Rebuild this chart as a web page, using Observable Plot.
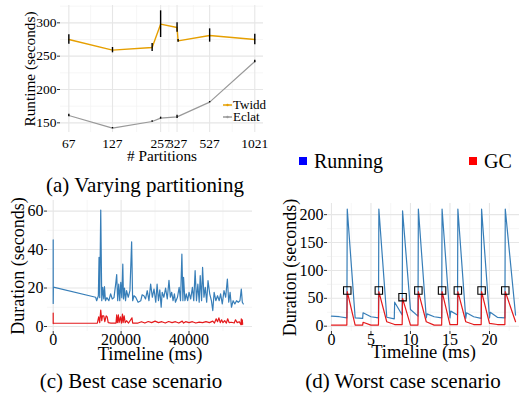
<!DOCTYPE html>
<html><head><meta charset="utf-8">
<script src="https://cdn.jsdelivr.net/npm/d3@7"></script>
<script src="https://cdn.jsdelivr.net/npm/@observablehq/plot@0.6"></script>
<style>
body{margin:0;background:#fff;font-family:'Liberation Serif',serif;color:#000;}
#root{position:relative;width:519px;height:393px;overflow:hidden;}
.panel{position:absolute;}
.panel svg text{font-family:'Liberation Serif',serif;}
.cap{position:absolute;font-size:21px;white-space:nowrap;transform:translate(-50%,-50%);}
.leg{position:absolute;font-size:20px;white-space:nowrap;display:flex;align-items:center;line-height:20px;}
.sw{display:inline-block;width:8px;height:8px;margin-right:7px;}
.alg{position:absolute;font-size:13px;white-space:nowrap;display:flex;align-items:center;line-height:11px;}
</style></head><body><div id="root"></div>
<script>
// ---- (a) Varying partitioning ----
const partitionTicks = [67, 127, 257, 327, 527, 1021];
const twiddX = [67, 127, 227, 257, 327, 332, 527, 1021];
const twiddY = [275, 259, 263, 298, 293, 273, 281, 275];
const twiddErr = [7, 4, 6, 20, 7, 2, 10, 8];
const eclatX = [67, 127, 227, 257, 327, 527, 1021];
const eclatY = [161, 142, 152, 157, 159, 181, 242];
const eclatErr = [2, 1, 1, 1.5, 2.5, 1, 2];
const runtimeTicks = [150, 200, 250, 300];
const runtimeMinor = [175, 225, 275, 325];
const seriesNames = ["Twidd", "Eclat"];

// ---- (c) Best case scenario ----
const bestRunT = [0,0,0,50,12500,12800,13300,13500,13700,14000,14300,14600,14900,15100,15400,15800,16400,16900,17400,17900,18400,18700,19000,19300,19600,19900,20200,20500,20700,21000,21300,21600,22100,22600,23100,23400,23800,24300,25000,25800,26200,26700,27200,27700,28200,28700,29200,29700,30200,30600,31000,31400,31800,32100,32600,33100,33600,34100,34500,34900,35300,35700,36000,36600,37100,37500,37900,38200,38400,38800,39200,39600,40000,40500,41000,41400,41800,42200,42600,43000,43300,43700,44000,44400,44800,45200,45600,46100,46600,47000,47400,47900,48400,48900,49300,49800,50300,50800,51300,51700,52100,52500,53000,53500,54000,54500,55000,55400,55700,56000];
const bestRunV = [33,45,12,20.5,15.2,13.4,16,36,15,60.5,13.4,20.3,14.3,20.7,13.4,15,13.4,17,14.3,15,22,27,13.4,22,13.4,23,15,32.4,14.3,20,13.4,18.6,15.2,18.6,44,13.4,16,15.2,12.6,13.4,16.5,16,14.3,18.6,13.4,22,15.2,19.5,12.6,22,13.4,19,10,17.8,15.2,20,14.3,24,15.2,17.8,13.4,17,12.6,15.2,20.3,13.4,37.6,13.4,25.5,13.4,17,13.4,17.8,14.3,20.3,13.4,29,13.4,22,12.6,26.4,13.4,30.7,15.2,20.3,12.6,23.8,17,13.4,8.3,17.8,13.4,16,13.4,17,11.7,18.6,15.2,24.7,12.6,17.8,10,13.4,11.7,13.4,12.6,13.4,19.5,12.6,11.7];
const bestGcT = [0,0,0,0,13000,13400,13700,14000,14300,14500,14900,15200,15600,15900,16200,17000,18500,18700,18900,19200,19400,19800,20100,20400,20600,20900,21200,21600,22200,23200,23400,25000,26000,27000,28000,29000,30000,31000,32000,33000,34000,35000,36000,37000,38000,38400,39000,40000,41000,42000,43000,44000,45000,46000,47000,47500,48000,48400,48800,49200,49600,50000,50500,51000,51400,51800,52500,53300,53700,54200,54800,55300,55400,55600,55700,55800];
const bestGcV = [1.5,7,6,1.7,1.7,5,2,8.5,3,5.5,5.5,2.5,5.5,5,2,1.8,1.8,6,2,6,2,5,1.8,6.5,2,5.5,2,3,1.8,4.5,1.8,1.8,2.5,1.8,2.6,2,2.8,2,2.5,1.8,2.6,2,2.5,1.8,2.8,1.8,2.5,2,2.5,1.8,2.3,2,2.5,2,2.8,1.8,4,2.5,4.5,2,3.5,2,3,1.8,4,2,2.2,1.8,3.5,2,2.5,1,4,1,3.5,1.2];
const bestXTicks = [0, 20000, 40000];
const bestXMinor = [10000, 30000, 50000];
const bestYTicks = [0, 20, 40, 60];
const bestYMinor = [10, 30, 50];

// ---- (d) Worst case scenario ----
const worstRunT = [0,1,1.95,2,3,3.95,4,5,5.95,6,7,7.95,8,8.95,9,10,10.95,11,12,12.1,13,13.95,14,15,15.1,15.95,16,17,17.1,18,18.95,19,20,20.1,21,21.95,22,23.3];
const worstRunV = [18,17,15,210,15,14,24,17,15,210,16,13,43,20,207,30,18,210,15,22,17,15,210,15,27,20,210,14,24,17,14,210,15,25,16,15,210,20];
const worstGcT = [0,1.95,2,3,3.95,4,5,5.95,6,7,8,8.95,9,10,10.95,11,12,13,13.95,14,15,15.95,16,17,18,18.95,19,20,21,21.95,22,23.3];
const worstGcV = [2,2,62,2,2,7,2,2,62,8,3,3,50,2,2,62,8,2,2,62,3,3,62,8,3,3,62,5,3,3,62,8];
const markT = [2, 6, 9, 11, 14, 16, 19, 22];
const markV = [64, 64, 52, 64, 64, 64, 64, 64];
const worstXTicks = [0, 5, 10, 15, 20];
const worstXMinor = [2.5, 7.5, 12.5, 17.5, 22.5];
const worstYTicks = [0, 50, 100, 150, 200];
const worstYMinor = [25, 75, 125, 175];
const legendNames = ["Running", "GC"];

const captions = ["(a) Varying partitioning", "(c) Best case scenario", "(d) Worst case scenario"];

const FONT = "'Liberation Serif', serif";
const C_TWIDD = "#E69F00", C_ECLAT = "#999999", C_RUN = "#377EB8", C_GC = "#E41A1C";
const MAJ = "#e6e6e6", MIN = "#f2f2f2";

const zip = (xs, ys, es) => xs.map((x, i) => ({x, y: ys[i], e: es ? es[i] : 0}));
const root = document.getElementById("root");
function place(node, left, top) {
  const d = document.createElement("div");
  d.className = "panel"; d.style.left = left + "px"; d.style.top = top + "px";
  d.appendChild(node); root.appendChild(d); return d;
}
function gridMarks(xt, xm, yt, ym) {
  return [
    Plot.ruleX(xm, {stroke: MIN, strokeWidth: 0.7}),
    Plot.ruleY(ym, {stroke: MIN, strokeWidth: 0.7}),
    Plot.ruleX(xt, {stroke: MAJ, strokeWidth: 1.1}),
    Plot.ruleY(yt, {stroke: MAJ, strokeWidth: 1.1})
  ];
}
function yTitle(t, dx, fs) {
  return Plot.text([t], {frameAnchor: "left", textAnchor: "middle", lineAnchor: "middle", dx, rotate: -90, fontSize: fs, fill: "#000"});
}
function xTitle(t, dy, fs) {
  return Plot.text([t], {frameAnchor: "bottom", textAnchor: "middle", lineAnchor: "middle", dy, fontSize: fs, fill: "#000"});
}
function xTickText(ticks, dy, fs) {
  return Plot.text(ticks, {x: d => d, frameAnchor: "bottom", lineAnchor: "middle", dy, text: d => String(d), fontSize: fs, fill: "#000"});
}

// (a)
const twidd = zip(twiddX, twiddY, twiddErr);
const eclat = zip(eclatX, eclatY, eclatErr);
const aMinorX = partitionTicks.slice(1).map((v, i) => Math.sqrt(v * partitionTicks[i]));
const plotA = Plot.plot({
  width: 270, height: 170, marginLeft: 60, marginRight: 7, marginTop: 5, marginBottom: 38,
  style: {fontFamily: FONT, fontSize: "13.5px", color: "#000", background: "transparent"},
  x: {type: "log", domain: [59.3, 1160], axis: null},
  y: {domain: [135.5, 326], axis: null},
  marks: [
    ...gridMarks(partitionTicks, aMinorX, runtimeTicks, runtimeMinor),
    xTickText(partitionTicks, 11, 13.5),
    Plot.axisY(runtimeTicks, {tickSize: 3, tickPadding: 1, stroke: "#333", label: null, fontSize: 13.5}),
    Plot.line(eclat, {x: "x", y: "y", stroke: C_ECLAT, strokeWidth: 1.2}),
    Plot.ruleX(eclat, {x: "x", y1: d => d.y - d.e, y2: d => d.y + d.e, stroke: "#000", strokeWidth: 1.4}),
    Plot.line(twidd, {x: "x", y: "y", stroke: C_TWIDD, strokeWidth: 1.4}),
    Plot.ruleX(twidd, {x: "x", y1: d => d.y - d.e, y2: d => d.y + d.e, stroke: "#000", strokeWidth: 1.4}),
    yTitle("Runtime (seconds)", -30, 15.3),
    xTitle("# Partitions", 23.5, 15.3)
  ]
});
place(plotA, 0, 0);

// legend (a)
const aLegColors = [C_TWIDD, C_ECLAT];
seriesNames.forEach((n, i) => {
  const d = document.createElement("div");
  d.className = "alg";
  d.style.left = "223px"; d.style.top = (99 + i * 12) + "px";
  d.innerHTML = `<svg width="9" height="8" style="margin-right:1px"><line x1="0" x2="9" y1="4" y2="4" stroke="${aLegColors[i]}" stroke-width="1.5"/><circle cx="4.5" cy="4" r="1.2" fill="${aLegColors[i]}"/></svg><span>${n}</span>`;
  root.appendChild(d);
});

// (c)
const plotC = Plot.plot({
  width: 262, height: 172, marginLeft: 47, marginRight: 10, marginTop: 5, marginBottom: 36,
  style: {fontFamily: FONT, fontSize: "16px", color: "#000", background: "transparent"},
  x: {domain: [-1680, 58700], axis: null},
  y: {domain: [-2.6, 65.5], axis: null},
  marks: [
    ...gridMarks(bestXTicks, bestXMinor, bestYTicks, bestYMinor),
    Plot.axisX(bestXTicks, {tickSize: 3, tickPadding: 0, stroke: "#333", text: null, label: null}),
    xTickText(bestXTicks, 8, 16),
    Plot.axisY(bestYTicks, {tickSize: 3, tickPadding: 1, stroke: "#333", label: null, fontSize: 16}),
    Plot.line(zip(bestRunT, bestRunV), {x: "x", y: "y", stroke: C_RUN, strokeWidth: 1.2}),
    Plot.line(zip(bestGcT, bestGcV), {x: "x", y: "y", stroke: C_GC, strokeWidth: 1.2}),
    yTitle("Duration (seconds)", -29, 18),
    xTitle("Timeline (ms)", 22.5, 18.5)
  ]
});
place(plotC, 0, 195);

// (d)
const plotD = Plot.plot({
  width: 249, height: 172, marginLeft: 57, marginRight: 0, marginTop: 8, marginBottom: 36,
  style: {fontFamily: FONT, fontSize: "16px", color: "#000", background: "transparent"},
  x: {domain: [-0.5, 23.8], axis: null},
  y: {domain: [-9.5, 220], axis: null},
  marks: [
    ...gridMarks(worstXTicks, worstXMinor, worstYTicks, worstYMinor),
    Plot.axisX(worstXTicks, {tickSize: 3, tickPadding: 0, stroke: "#333", text: null, label: null}),
    xTickText(worstXTicks, 8, 16),
    Plot.axisY(worstYTicks, {tickSize: 3, tickPadding: 1, stroke: "#333", label: null, fontSize: 16}),
    Plot.line(zip(worstRunT, worstRunV), {x: "x", y: "y", stroke: C_RUN, strokeWidth: 1.2}),
    Plot.line(zip(worstGcT, worstGcV), {x: "x", y: "y", stroke: C_GC, strokeWidth: 1.2}),
    Plot.dot(zip(markT, markV), {x: "x", y: "y", symbol: "square", r: 4.2, stroke: "#000", strokeWidth: 1.1, fill: "none"}),
    yTitle("Duration (seconds)", -37, 18),
    xTitle("Timeline (ms)", 21, 18.5)
  ]
});
place(plotD, 270, 195);

// top legend
const legColors = ["#0000FF", "#FF0000"];
const legLeft = [299, 469];
legendNames.forEach((n, i) => {
  const d = document.createElement("div");
  d.className = "leg";
  d.style.left = legLeft[i] + "px"; d.style.top = "151px";
  d.innerHTML = `<span class="sw" style="background:${legColors[i]}"></span><span>${n}</span>`;
  root.appendChild(d);
});

// captions
const capPos = [[145, 185], [131, 381], [403, 381]];
captions.forEach((c, i) => {
  const d = document.createElement("div");
  d.className = "cap"; d.textContent = c;
  d.style.left = capPos[i][0] + "px"; d.style.top = capPos[i][1] + "px";
  root.appendChild(d);
});
</script></body></html>
